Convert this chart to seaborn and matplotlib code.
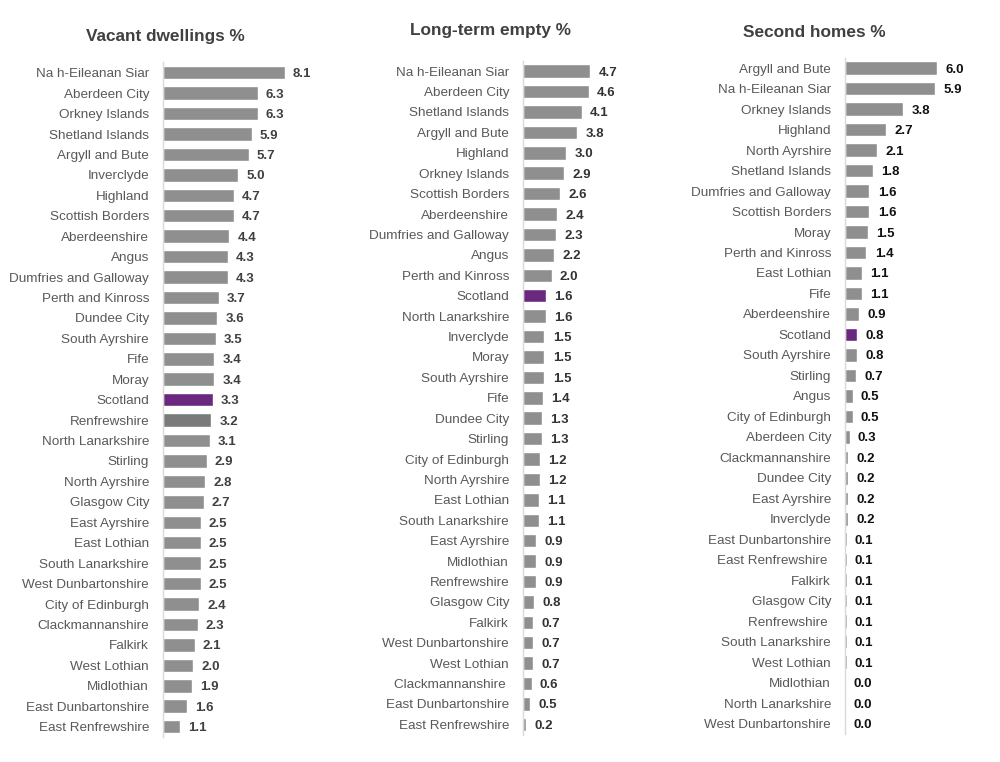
import matplotlib
matplotlib.use("Agg")
import matplotlib.pyplot as plt
import seaborn as sns

# Data
vacant_areas = ["Na h-Eileanan Siar", "Aberdeen City", "Orkney Islands", "Shetland Islands",
                "Argyll and Bute", "Inverclyde", "Highland", "Scottish Borders", "Aberdeenshire",
                "Angus", "Dumfries and Galloway", "Perth and Kinross", "Dundee City",
                "South Ayrshire", "Fife", "Moray", "Scotland", "Renfrewshire",
                "North Lanarkshire", "Stirling", "North Ayrshire", "Glasgow City",
                "East Ayrshire", "East Lothian", "South Lanarkshire", "West Dunbartonshire",
                "City of Edinburgh", "Clackmannanshire", "Falkirk", "West Lothian",
                "Midlothian", "East Dunbartonshire", "East Renfrewshire"]
vacant_pct = [8.1, 6.3, 6.3, 5.9, 5.7, 5.0, 4.7, 4.7, 4.4, 4.3, 4.3, 3.7, 3.6, 3.5, 3.4, 3.4,
              3.3, 3.2, 3.1, 2.9, 2.8, 2.7, 2.5, 2.5, 2.5, 2.5, 2.4, 2.3, 2.1, 2.0, 1.9, 1.6, 1.1]

longterm_areas = ["Na h-Eileanan Siar", "Aberdeen City", "Shetland Islands", "Argyll and Bute",
                  "Highland", "Orkney Islands", "Scottish Borders", "Aberdeenshire",
                  "Dumfries and Galloway", "Angus", "Perth and Kinross", "Scotland",
                  "North Lanarkshire", "Inverclyde", "Moray", "South Ayrshire", "Fife",
                  "Dundee City", "Stirling", "City of Edinburgh", "North Ayrshire",
                  "East Lothian", "South Lanarkshire", "East Ayrshire", "Midlothian",
                  "Renfrewshire", "Glasgow City", "Falkirk", "West Dunbartonshire",
                  "West Lothian", "Clackmannanshire ", "East Dunbartonshire", "East Renfrewshire"]
longterm_pct = [4.7, 4.6, 4.1, 3.8, 3.0, 2.9, 2.6, 2.4, 2.3, 2.2, 2.0, 1.6, 1.6, 1.5, 1.5, 1.5,
                1.4, 1.3, 1.3, 1.2, 1.2, 1.1, 1.1, 0.9, 0.9, 0.9, 0.8, 0.7, 0.7, 0.7, 0.6, 0.5, 0.2]

second_areas = ["Argyll and Bute", "Na h-Eileanan Siar", "Orkney Islands", "Highland",
                "North Ayrshire", "Shetland Islands", "Dumfries and Galloway", "Scottish Borders",
                "Moray", "Perth and Kinross", "East Lothian", "Fife", "Aberdeenshire", "Scotland",
                "South Ayrshire", "Stirling", "Angus", "City of Edinburgh", "Aberdeen City",
                "Clackmannanshire", "Dundee City", "East Ayrshire", "Inverclyde",
                "East Dunbartonshire", "East Renfrewshire ", "Falkirk", "Glasgow City",
                "Renfrewshire ", "South Lanarkshire", "West Lothian", "Midlothian",
                "North Lanarkshire", "West Dunbartonshire"]
second_pct = [6.0, 5.9, 3.8, 2.7, 2.1, 1.8, 1.6, 1.6, 1.5, 1.4, 1.1, 1.1, 0.9, 0.8, 0.8, 0.7,
              0.5, 0.5, 0.3, 0.2, 0.2, 0.2, 0.2, 0.1, 0.1, 0.1, 0.1, 0.1, 0.1, 0.1, 0.0, 0.0, 0.0]

titles = ["Vacant dwellings %", "Long-term empty %", "Second homes %"]

GREY = "#8f8f8f"
DARK_GREY = "#7a7a7a"
PURPLE = "#6a287e"

sns.set_theme(style="white")
plt.rcParams["font.family"] = ["Liberation Sans", "DejaVu Sans"]

fig = plt.figure(figsize=(10, 7.62), dpi=100)

# axes positions in figure fractions [left, bottom, width, height]
positions = [[0.163, 0.033, 0.150, 0.885],
             [0.523, 0.036, 0.143, 0.884],
             [0.845, 0.037, 0.153, 0.887]]
title_pos = [(0.165, 0.952), (0.490, 0.960), (0.814, 0.958)]
value_colors = ["#404040", "#333333", "#111111"]

panels = [(vacant_areas, vacant_pct), (longterm_areas, longterm_pct), (second_areas, second_pct)]

for i, (areas, vals) in enumerate(panels):
    ax = fig.add_axes(positions[i])
    colors = []
    for a in areas:
        if a == "Scotland":
            colors.append(PURPLE)
        elif i == 0 and a == "Renfrewshire":
            colors.append(DARK_GREY)
        else:
            colors.append(GREY)
    sns.barplot(x=vals, y=areas, hue=areas, palette=colors, legend=False,
                orient="h", width=0.66, ax=ax, saturation=1)
    for cont in ax.containers:
        txts = ax.bar_label(cont, fmt="%.1f", padding=6, fontsize=9.5, fontweight="bold",
                            color=value_colors[i])
        for t in txts:
            t.set_va("center_baseline")
    ax.set_xlim(0, 10)
    ax.set_ylim(len(areas) - 0.5, -0.5)
    ax.set_xlabel("")
    ax.set_ylabel("")
    ax.set_xticks([])
    ax.tick_params(axis="y", length=0, pad=10, labelsize=9.7, labelcolor="#595959")
    for s in ["top", "right", "bottom"]:
        ax.spines[s].set_visible(False)
    ax.spines["left"].set_color("#d9d9d9")
    ax.spines["left"].set_linewidth(1)
    fig.text(title_pos[i][0], title_pos[i][1], titles[i], ha="center", va="center",
             fontsize=12.4, fontweight="bold", color="#404040")

fig.savefig("out.png", dpi=100, facecolor="white")
